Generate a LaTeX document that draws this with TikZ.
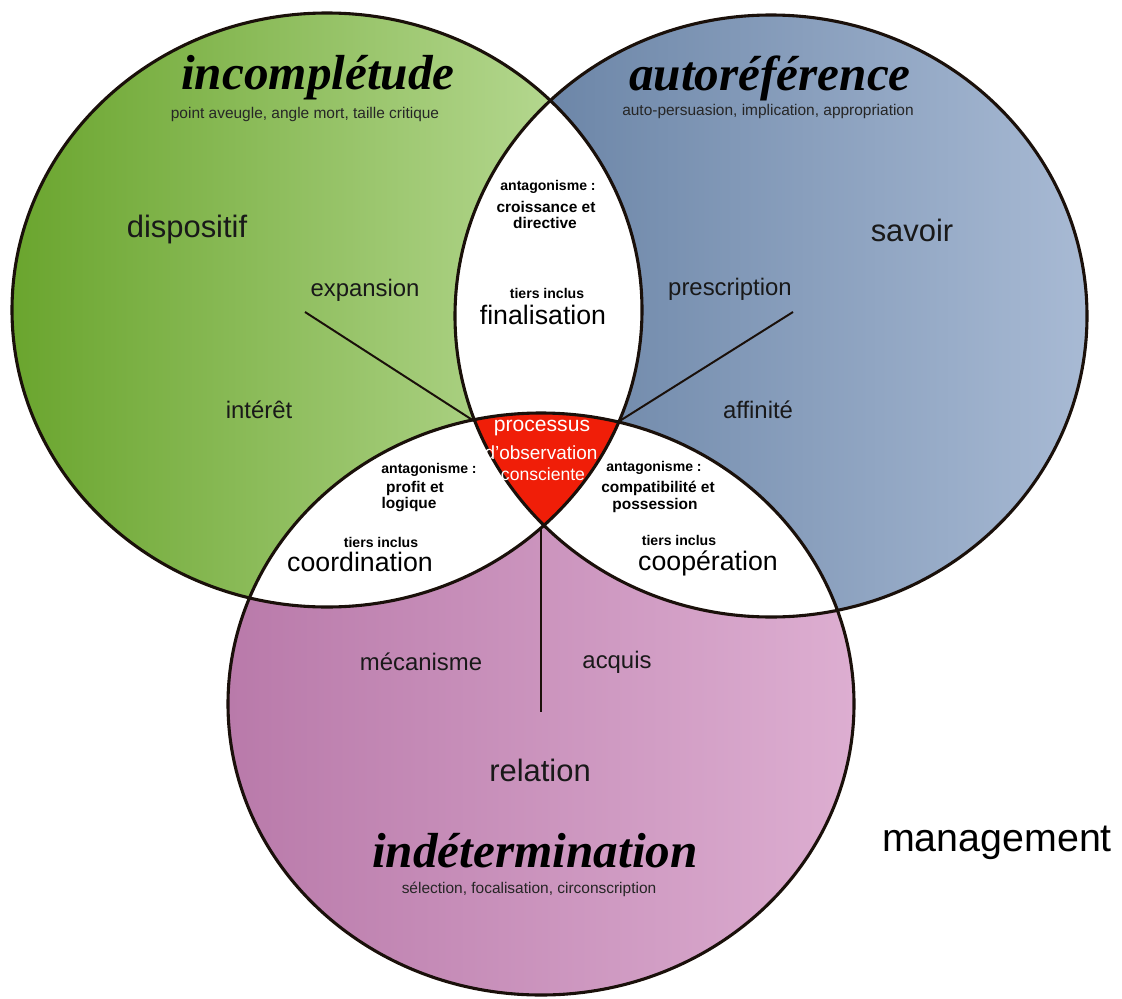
\documentclass[tikz,border=0pt]{standalone}
\usepackage{fontspec}
\setmainfont{Liberation Sans}
\newfontfamily\titlefont{Liberation Serif}
\usepackage{tikz}
\usetikzlibrary{positioning}

\definecolor{outline}{RGB}{26,16,10}
\definecolor{greenL}{RGB}{106,165,46}
\definecolor{greenR}{RGB}{192,223,158}
\definecolor{blueL}{RGB}{98,125,160}
\definecolor{blueR}{RGB}{168,186,212}
\definecolor{pinkL}{RGB}{185,122,170}
\definecolor{pinkR}{RGB}{221,174,209}
\definecolor{redcore}{RGB}{240,30,8}

\newcommand{\greenpath}{(327,310) ellipse [x radius=315,y radius=297]}
\newcommand{\bluepath}{(771,316) ellipse [x radius=316,y radius=301]}
\newcommand{\pinkpath}{(541,704) ellipse [x radius=313,y radius=291]}

\begin{document}
\begin{tikzpicture}[x=0.025cm,y=-0.025cm,
  rim/.style={draw=outline,line width=2.2pt},
  spoke/.style={draw=outline,line width=1.4pt},
  bigtitle/.style={font=\titlefont\bfseries\itshape\fontsize{35}{40}\selectfont,text=black,inner sep=0pt},
  hint/.style={font=\fontsize{11}{13}\selectfont,text=black!85,inner sep=0pt},
  pole/.style={font=\fontsize{22}{26}\selectfont,text=black!90,inner sep=0pt},
  branch/.style={font=\fontsize{17}{20}\selectfont,text=black!90,inner sep=0pt},
  antag/.style={font=\bfseries\fontsize{10}{11}\selectfont,inner sep=0pt},
  pairtext/.style={font=\bfseries\fontsize{11}{12}\selectfont,inner sep=0pt},
  thirdterm/.style={font=\fontsize{19}{22}\selectfont,inner sep=0pt},
  redtext/.style={text=white,inner sep=0pt}]
\useasboundingbox (0,0) rectangle (1122,998);

\shade[left color=greenL,right color=greenR] \greenpath;
\shade[left color=blueL,right color=blueR] \bluepath;
\shade[left color=pinkL,right color=pinkR] \pinkpath;
\begin{scope}
  \clip \greenpath;
  \fill[white] \bluepath;
  \fill[white] \pinkpath;
\end{scope}
\begin{scope}
  \clip \bluepath;
  \fill[white] \pinkpath;
\end{scope}
\begin{scope}
  \clip \greenpath;
  \clip \bluepath;
  \fill[redcore] \pinkpath;
\end{scope}
\draw[rim] \greenpath;
\draw[rim] \bluepath;
\draw[rim] \pinkpath;

\coordinate (redL) at (474,421);
\coordinate (redR) at (618,422);
\coordinate (redB) at (541,527);
\coordinate (expEnd) at (305,312);
\coordinate (preEnd) at (793,312);
\coordinate (relEnd) at (541,712);
\draw[spoke] (expEnd) -- (redL);
\draw[spoke] (preEnd) -- (redR);
\draw[spoke] (redB) -- (relEnd);

\node[bigtitle] (incompl) at (318,78) {incomplétude};
\node[hint] (incomplSub) at (305,115) {point aveugle, angle mort, taille critique};
\node[bigtitle] (autoref) at (770,78) {autoréférence};
\node[hint] (autorefSub) at (768,112) {auto-persuasion, implication, appropriation};
\node[bigtitle] (indet) at (535,851) {indétermination};
\node[hint] (indetSub) at (529,889) {sélection, focalisation, circonscription};

\node[pole] (dispositif) at (187,230) {dispositif};
\node[pole] (savoir) at (912,230) {savoir};
\node[pole] (relation) at (540,770) {relation};
\node[branch] (expansion) at (365,290) {expansion};
\node[branch] (prescription) at (730,289) {prescription};
\node[branch] (interet) at (259,410) {intérêt};
\node[branch] (affinite) at (758,410) {affinité};
\node[branch] (mecanisme) at (421,662) {mécanisme};
\node[branch] (acquis) at (617,662) {acquis};

\node[antag] (finAnt) at (548,187) {antagonisme :};
\node[pairtext] (finA) at (546,207) {croissance et};
\node[pairtext] (finB) at (545,223) {directive};
\node[antag] (finTiers) at (547,293) {tiers inclus};
\node[thirdterm] (finalisation) at (543,315) {finalisation};

\node[antag] (coordAnt) at (429,470) {antagonisme :};
\node[pairtext] (coordA) at (415,488) {profit et};
\node[pairtext] (coordB) at (409,505) {logique};
\node[antag] (coordTiers) at (381,542) {tiers inclus};
\node[thirdterm] (coordination) at (360,562) {coordination};

\node[antag] (coopAnt) at (654,468) {antagonisme :};
\node[pairtext] (coopA) at (658,488) {compatibilité et};
\node[pairtext] (coopB) at (655,505) {possession};
\node[antag] (coopTiers) at (679,540) {tiers inclus};
\node[thirdterm] (cooperation) at (708,563) {coopération};

\node[redtext,font=\fontsize{15}{17}\selectfont] (procA) at (542,428) {processus};
\node[redtext,font=\fontsize{13.5}{15}\selectfont] (procB) at (541,453) {d'observation};
\node[redtext,font=\fontsize{12.5}{14}\selectfont] (procC) at (543,474) {consciente};

\node[font=\fontsize{28}{32}\selectfont,inner sep=0pt] (management) at (997,843) {management};
\end{tikzpicture}
\end{document}
